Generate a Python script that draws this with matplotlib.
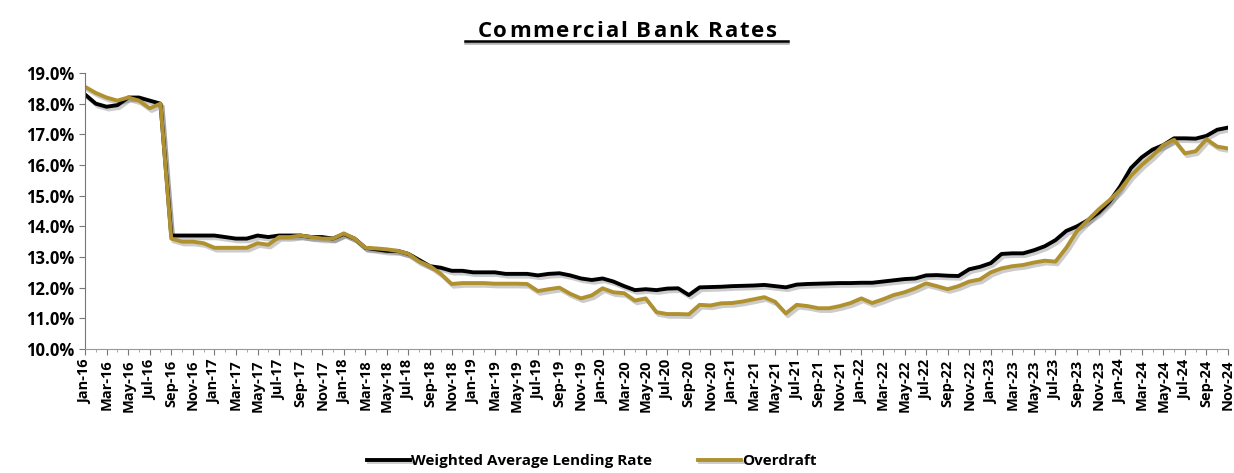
import matplotlib.pyplot as plt
import matplotlib.patheffects as pe
from matplotlib.lines import Line2D
import numpy as np

# monthly data Jan-16 .. Nov-24
months = ['Jan', 'Feb', 'Mar', 'Apr', 'May', 'Jun', 'Jul', 'Aug', 'Sep', 'Oct', 'Nov', 'Dec']
labels = [f'{m}-{y}' for y in range(16, 25) for m in months][:107]

walr = [18.3, 18.0, 17.9, 17.95, 18.2, 18.2, 18.1, 18.0, 13.7, 13.7, 13.7, 13.7,
        13.7, 13.65, 13.6, 13.6, 13.7, 13.65, 13.7, 13.7, 13.7, 13.65, 13.65, 13.6,
        13.75, 13.6, 13.3, 13.25, 13.2, 13.2, 13.1, 12.9, 12.7, 12.65, 12.55, 12.55,
        12.5, 12.5, 12.5, 12.45, 12.45, 12.45, 12.4, 12.45, 12.47, 12.4, 12.3, 12.25,
        12.3, 12.2, 12.05, 11.92, 11.95, 11.92, 11.97, 11.98, 11.76, 12.01, 12.02, 12.03,
        12.05, 12.06, 12.07, 12.09, 12.05, 12.01, 12.1, 12.12, 12.13, 12.14, 12.15, 12.15,
        12.16, 12.16, 12.2, 12.24, 12.28, 12.3, 12.4, 12.41, 12.39, 12.38, 12.6, 12.68,
        12.8, 13.1, 13.12, 13.12, 13.22, 13.35, 13.55, 13.85, 14.0, 14.2, 14.45, 14.8,
        15.3, 15.9, 16.25, 16.5, 16.65, 16.87, 16.87, 16.86, 16.95, 17.15, 17.22]

overdraft = [18.55, 18.35, 18.2, 18.1, 18.2, 18.1, 17.85, 18.0, 13.6, 13.5, 13.5, 13.45,
             13.3, 13.3, 13.3, 13.3, 13.45, 13.4, 13.65, 13.65, 13.7, 13.65, 13.6, 13.6,
             13.77, 13.6, 13.3, 13.28, 13.25, 13.2, 13.1, 12.85, 12.7, 12.45, 12.12, 12.15,
             12.15, 12.15, 12.13, 12.13, 12.13, 12.12, 11.89, 11.95, 12.0, 11.8, 11.65, 11.75,
             11.98, 11.85, 11.82, 11.58, 11.65, 11.2, 11.14, 11.14, 11.13, 11.44, 11.42, 11.49,
             11.5, 11.55, 11.62, 11.69, 11.54, 11.16, 11.44, 11.4, 11.33, 11.33, 11.4, 11.5,
             11.65, 11.5, 11.62, 11.76, 11.85, 11.98, 12.14, 12.05, 11.95, 12.05, 12.2, 12.27,
             12.5, 12.63, 12.7, 12.74, 12.82, 12.88, 12.85, 13.3, 13.85, 14.2, 14.55, 14.85,
             15.19, 15.65, 16.0, 16.3, 16.65, 16.82, 16.38, 16.45, 16.84, 16.6, 16.54]

plt.rcParams['font.family'] = ['Open Sans', 'DejaVu Sans']

W, H = 1234, 473
fig = plt.figure(figsize=(W / 100, H / 100), dpi=100)
ax = fig.add_axes([85 / W, 1 - 349 / H, (1228 - 85) / W, (349 - 73) / H])

x = np.arange(len(walr))
shadow = [pe.SimpleLineShadow(offset=(1.5, -2), alpha=0.2), pe.Normal()]
ax.plot(x, walr, color='black', lw=2.8, path_effects=shadow, label='Weighted Average Lending Rate')
ax.plot(x, overdraft, color='#B0912F', lw=2.8, path_effects=shadow, label='Overdraft')

ax.set_xlim(0, len(walr) - 1)
ax.set_ylim(10, 19)
yt = np.arange(10, 19.1, 1)
ax.set_yticks(yt)
ax.set_yticklabels([f'{v:.1f}%' for v in yt], fontsize=12, fontweight='bold')
ax.set_xticks(x[::2])
ax.set_xticklabels(labels[::2], rotation=90, fontsize=10.5, fontweight='bold')
ax.set_xticks(x, minor=True)
ax.tick_params(axis='both', colors='#777777', labelcolor='black', length=4)
ax.tick_params(axis='x', which='minor', length=2, colors='#999999')

for s in ['top', 'right']:
    ax.spines[s].set_visible(False)
ax.spines['left'].set_color('#777777')
ax.spines['bottom'].set_color('#999999')


# title with letter spacing, placed char by char
def spaced_title(text, xc, y, gap, **kw):
    r = fig.canvas.get_renderer()

    def width(s):
        t = fig.text(0, 0, s, **kw)
        w = t.get_window_extent(renderer=r).width
        t.remove()
        return w

    base = width('nn')
    pos, xs = 0, []
    for ch in text:
        xs.append(pos)
        adv = width('n n') - base if ch == ' ' else width('n' + ch + 'n') - base
        pos += adv + gap
    x0 = xc - (pos - gap) / 2
    for ch, p in zip(text, xs):
        if ch != ' ':
            fig.text((x0 + p) / W, 1 - y / H, ch, ha='left', va='baseline', **kw)


spaced_title('Commercial Bank Rates', 627, 37, 1.8, fontsize=16, fontweight='bold')
fig.add_artist(Line2D([465 / W, 788 / W], [1 - 41 / H, 1 - 41 / H], color='black', lw=1.8,
                      path_effects=[pe.SimpleLineShadow(offset=(0, -1.5), alpha=0.3), pe.Normal()]))

fig.legend(loc='center', bbox_to_anchor=(592 / W, 1 - 461 / H), ncol=2, frameon=False,
           prop={'weight': 'bold', 'size': 11}, handlelength=2.8, handletextpad=0.1,
           columnspacing=3)

fig.savefig('out.png', dpi=100)
